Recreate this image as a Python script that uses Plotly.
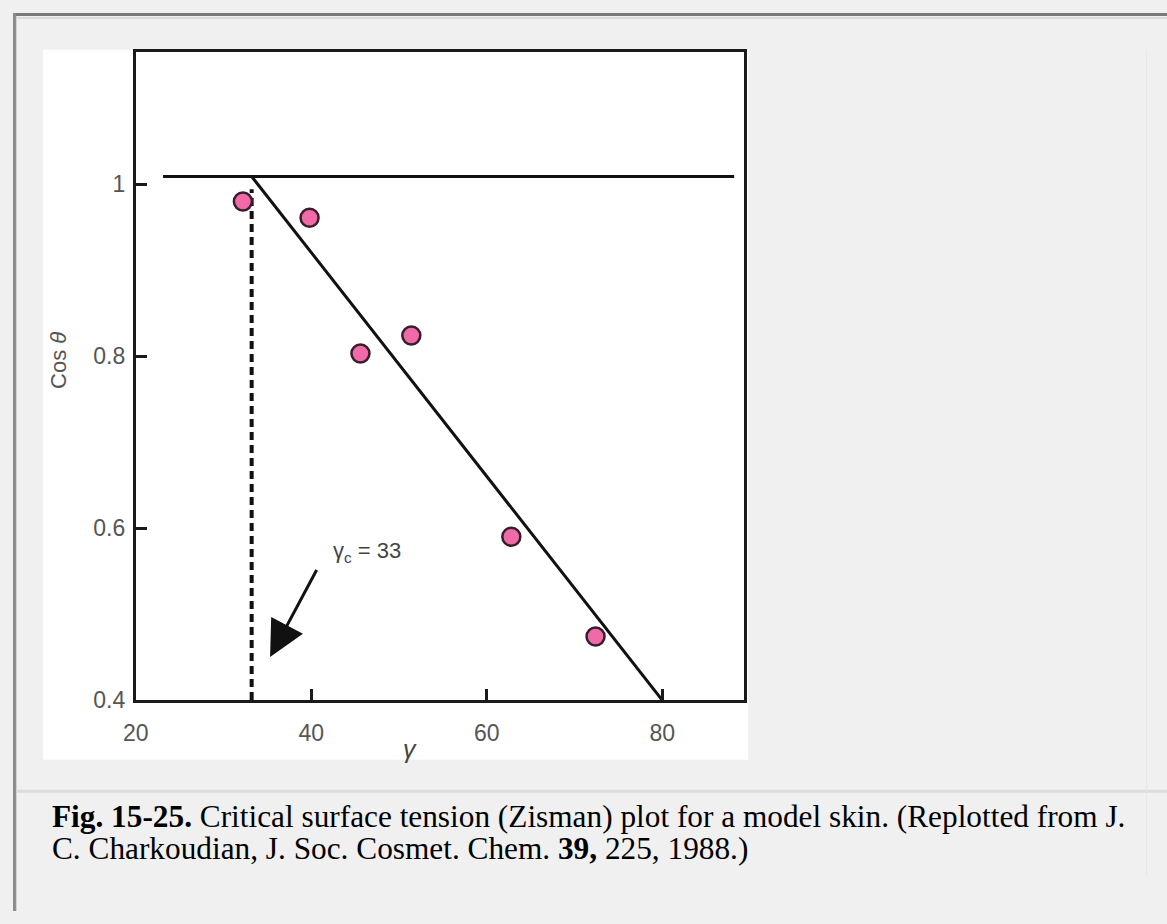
import plotly.graph_objects as go

W, H = 1167, 924

# ---- data ----
gamma = [32.2, 39.8, 45.6, 51.4, 62.8, 72.4]
cos_theta = [0.980, 0.961, 0.803, 0.824, 0.590, 0.474]

x_ticks = [20, 40, 60, 80]
x_ticktext = ["20", "40", "60", "80"]
y_ticks = [0.4, 0.6, 0.8, 1.0]
y_ticktext = ["0.4", "0.6", "0.8", "1"]

plateau_x = [23.1, 88.2]
plateau_y = [1.009, 1.009]
fit_x = [33.2, 80.0]
fit_y = [1.009, 0.40]
crit_x = [33.2, 33.2]
crit_y = [0.40, 0.994]

caption_line1 = "<b>Fig. 15-25.</b> Critical surface tension (Zisman) plot for a model skin. (Replotted from J."
caption_line2 = "C. Charkoudian, J. Soc. Cosmet. Chem. <b>39,</b> 225, 1988.)"

# calibration of the rendering (offset/scale seen in previous renders)
OX, SX, SY = 13.0, 0.99, 0.99


def px(x):
    return max(0.0, (x - OX) / SX) / W


def py(y):
    return min(1.0, max(0.0, 1 - (y / SY) / H))


fig = go.Figure()

fig.add_trace(go.Scatter(x=plateau_x, y=plateau_y, mode="lines",
                         line=dict(color="#111111", width=3), hoverinfo="skip"))
fig.add_trace(go.Scatter(x=fit_x, y=fit_y, mode="lines",
                         line=dict(color="#111111", width=3), hoverinfo="skip"))
fig.add_trace(go.Scatter(x=crit_x, y=crit_y, mode="lines",
                         line=dict(color="#111111", width=4, dash="8px,5px"),
                         hoverinfo="skip"))
fig.add_trace(go.Scatter(x=gamma, y=cos_theta, mode="markers",
                         marker=dict(size=18, color="#f06aa8",
                                     line=dict(color="#3a1d2c", width=2.5))))

shapes = [
    # white picture area
    dict(type="rect", xref="paper", yref="paper", x0=px(43), x1=px(749),
         y0=py(763), y1=py(50), fillcolor="white", line=dict(width=0), layer="below"),
    # top border
    dict(type="rect", xref="paper", yref="paper", x0=0, x1=1,
         y0=py(16), y1=py(13), fillcolor="#7a7a7a", line=dict(width=0), layer="below"),
    dict(type="rect", xref="paper", yref="paper", x0=3 / W, x1=1,
         y0=py(19), y1=py(17), fillcolor="#dcdcdc", line=dict(width=0), layer="below"),
    # left border
    dict(type="rect", xref="paper", yref="paper", x0=0, x1=3 / W,
         y0=0, y1=py(13), fillcolor="#8a8a8a", line=dict(width=0), layer="below"),
    dict(type="rect", xref="paper", yref="paper", x0=3 / W, x1=4 / W,
         y0=0, y1=py(16), fillcolor="#d0d0d0", line=dict(width=0), layer="below"),
    # separator
    dict(type="rect", xref="paper", yref="paper", x0=4 / W, x1=1,
         y0=py(796), y1=py(793), fillcolor="#dcdcdc", line=dict(width=0), layer="below"),
    # faint right line
    dict(type="line", xref="paper", yref="paper", x0=px(1148), x1=px(1148),
         y0=py(880), y1=py(50), line=dict(color="#e6e6e6", width=1), layer="below"),
]

annotations = [
    dict(x=35.3, y=0.45, ax=40.7, ay=0.553, xref="x", yref="y", axref="x", ayref="y",
         text="", showarrow=True, arrowhead=2, arrowsize=2.4, arrowwidth=3,
         arrowcolor="#111111"),
    dict(x=px(331), y=py(554), xref="paper", yref="paper", xanchor="left", yanchor="middle",
         text="γ<sub>c</sub> = 33", showarrow=False,
         font=dict(family="Liberation Sans, Arial", size=22, color="#444444")),
    dict(x=px(44), y=py(362), xref="paper", yref="paper", textangle=-90,
         text="Cos <i>θ</i>", showarrow=False,
         font=dict(family="Liberation Sans, Arial", size=22, color="#555555")),
    dict(x=px(410), y=py(768), xref="paper", yref="paper",
         text="<i>γ</i>", showarrow=False,
         font=dict(family="Liberation Sans, Arial", size=25, color="#444444")),
    dict(x=px(50), y=py(820), xref="paper", yref="paper", xanchor="left", yanchor="middle",
         align="left", text=caption_line1, showarrow=False,
         font=dict(family="Liberation Serif, Times New Roman", size=31.3, color="#000000")),
    dict(x=px(50), y=py(852), xref="paper", yref="paper", xanchor="left", yanchor="middle",
         align="left", text=caption_line2, showarrow=False,
         font=dict(family="Liberation Serif, Times New Roman", size=31.3, color="#000000")),
]

axis_common = dict(showline=True, linecolor="#1a1a1a", linewidth=3, mirror=True,
                   ticks="inside", ticklen=11, tickwidth=3, tickcolor="#1a1a1a",
                   showgrid=False, zeroline=False,
                   tickfont=dict(family="Liberation Sans, Arial", size=23, color="#555555"))

fig.update_layout(
    autosize=True,
    margin=dict(l=0, r=0, t=0, b=0),
    paper_bgcolor="#f0f0f0",
    plot_bgcolor="white",
    showlegend=False,
    xaxis=dict(domain=[px(136), px(745)], range=[20, 89.34],
               tickvals=x_ticks, ticktext=x_ticktext, ticklabelstandoff=10,
               **axis_common),
    yaxis=dict(domain=[py(703), py(52)], range=[0.4, 1.154],
               tickvals=y_ticks, ticktext=y_ticktext, ticklabelstandoff=3,
               **axis_common),
    shapes=shapes,
    annotations=annotations,
)

fig.write_html(
    "out.html",
    config={"displayModeBar": False},
    default_width="100vw",
    default_height="100vh",
    post_script="document.body.style.margin='0px';document.body.style.overflow='hidden';",
)
